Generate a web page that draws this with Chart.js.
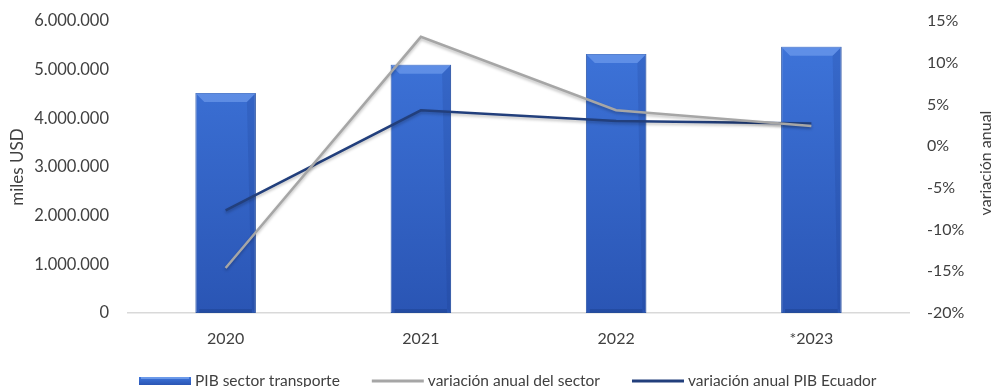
<!DOCTYPE html>
<html>
<head>
<meta charset="utf-8">
<script src="https://cdn.jsdelivr.net/npm/chart.js@4.4.1/dist/chart.umd.min.js"></script>
<style>
  html, body { margin: 0; padding: 0; background: #fff; }
  #wrap { width: 994px; height: 387px; position: relative; }
</style>
</head>
<body>
<div id="wrap"><canvas id="pibChart"></canvas></div>
<script>
// data
var years         = ['2020', '2021', '2022', '*2023'];
var pibTransporte = [4520000, 5100000, 5320000, 5470000];   // miles USD
var varSector     = [-14.6, 13.1, 4.3, 2.4];                 // %
var varEcuador    = [-7.7, 4.3, 3.0, 2.7];                   // %
var seriesNames   = ['PIB sector transporte', 'variación anual del sector', 'variación anual PIB Ecuador'];

var FONT = 'Lato';
var TXT  = '#404040';
var GREY = '#a6a6a6';
var NAVY = '#223f7c';

function fmtMiles(v) {
    return String(v).replace(/\B(?=(\d{3})+(?!\d))/g, '.');
}

function barGradient(ctx, top, bottom) {
    var g = ctx.createLinearGradient(0, top, 0, bottom);
    g.addColorStop(0, '#3f76dc');
    g.addColorStop(1, '#2a55b4');
    return g;
}

// fixed axis boxes so the plot area lands where the reference has it
function fixBox(width) {
    return function (s) {
        s.width = width;
        s.paddingTop = 0;
        s.paddingBottom = 0;
    };
}

// bevel on bars, shadow on lines, rotated right-axis title, legend
var excelLook = {
    id: 'excelLook',
    beforeDatasetDraw: function (chart, args) {
        if (args.index === 0) return;
        var ctx = chart.ctx;
        ctx.save();
        ctx.shadowColor = 'rgba(0,0,0,0.25)';
        ctx.shadowBlur = 3;
        ctx.shadowOffsetY = 2;
    },
    afterDatasetDraw: function (chart, args) {
        var ctx = chart.ctx;
        if (args.index !== 0) { ctx.restore(); return; }
        args.meta.data.forEach(function (bar) {
            var p = bar.getProps(['x', 'y', 'base', 'width'], true);
            var l = p.x - p.width / 2, r = p.x + p.width / 2, t = p.y, b = p.base, bv = 9;
            ctx.save();
            ctx.fillStyle = 'rgba(130,172,245,0.5)';
            ctx.beginPath();
            ctx.moveTo(l, t); ctx.lineTo(r, t); ctx.lineTo(r - bv, t + bv); ctx.lineTo(l + bv, t + bv);
            ctx.closePath(); ctx.fill();
            ctx.fillStyle = 'rgba(20,50,120,0.15)';
            ctx.beginPath();
            ctx.moveTo(r, t); ctx.lineTo(r, b); ctx.lineTo(r - 4, b - 4); ctx.lineTo(r - bv, t + bv);
            ctx.closePath(); ctx.fill();
            ctx.fillStyle = 'rgba(15,40,100,0.22)';
            ctx.fillRect(l + 4, b - 4, p.width - 8, 4);
            ctx.restore();
        });
    },
    afterDraw: function (chart) {
        var ctx = chart.ctx, ca = chart.chartArea;
        ctx.save();
        ctx.font = '16px ' + FONT;
        ctx.fillStyle = TXT;
        ctx.textAlign = 'center';
        ctx.textBaseline = 'middle';
        ctx.translate(chart.width - 8, (ca.top + ca.bottom) / 2 - 4);
        ctx.rotate(-Math.PI / 2);
        ctx.fillText('variación anual', 0, 0);
        ctx.restore();

        ctx.save();
        ctx.font = '15.5px ' + FONT;
        ctx.textBaseline = 'middle';
        ctx.textAlign = 'left';
        var sw = 52, gapTxt = 4, gapItem = 32, y = 381;
        var x = ca.left + 11;
        seriesNames.forEach(function (name, i) {
            if (i === 0) {
                ctx.fillStyle = barGradient(ctx, y - 4, y + 4);
                ctx.fillRect(x, y - 4, sw, 8);
                ctx.fillStyle = 'rgba(140,180,245,0.6)';
                ctx.fillRect(x + 2, y - 4, sw - 4, 2);
            } else {
                ctx.strokeStyle = i === 1 ? GREY : NAVY;
                ctx.lineWidth = 3;
                ctx.beginPath();
                ctx.moveTo(x, y); ctx.lineTo(x + sw, y);
                ctx.stroke();
            }
            ctx.fillStyle = TXT;
            ctx.fillText(name, x + sw + gapTxt, y);
            x += sw + gapTxt + ctx.measureText(name).width + gapItem;
        });
        ctx.restore();
    }
};

new Chart(document.getElementById('pibChart'), {
    type: 'bar',
    data: {
        labels: years,
        datasets: [
            { type: 'bar', label: seriesNames[0], data: pibTransporte, yAxisID: 'y', order: 1,
              backgroundColor: function (c) {
                  var a = c.chart.chartArea;
                  if (!a) return '#3566cc';
                  return barGradient(c.chart.ctx, a.top, a.bottom);
              },
              borderColor: '#2c56a8', borderWidth: 1, borderSkipped: false,
              barPercentage: 0.31, categoryPercentage: 1 },
            { type: 'line', label: seriesNames[1], data: varSector, yAxisID: 'y1', order: 0,
              borderColor: GREY, borderWidth: 2.5, pointRadius: 0, tension: 0, fill: false },
            { type: 'line', label: seriesNames[2], data: varEcuador, yAxisID: 'y1', order: 0,
              borderColor: NAVY, borderWidth: 2.5, pointRadius: 0, tension: 0, fill: false }
        ]
    },
    options: {
        responsive: true, maintainAspectRatio: false, animation: false,
        layout: { padding: { top: 21, bottom: 34, left: 0, right: 0 } },
        plugins: { legend: { display: false }, tooltip: { enabled: false } },
        scales: {
            x: {
                grid: { display: false, drawTicks: false },
                border: { display: true, color: '#d9d9d9', width: 1.5 },
                ticks: { color: TXT, font: { family: FONT, size: 16 }, padding: 16 },
                afterFit: function (s) { s.height = 40; }
            },
            y: {
                position: 'left', min: 0, max: 6000000,
                grid: { display: false, drawTicks: false },
                border: { display: false },
                ticks: { stepSize: 1000000, color: TXT, font: { family: FONT, size: 16.5 }, padding: 19,
                         callback: function (v) { return fmtMiles(v); } },
                title: { display: true, text: 'miles USD', color: TXT, font: { family: FONT, size: 17 },
                         padding: { top: 7, bottom: 0 } },
                afterFit: fixBox(128)
            },
            y1: {
                position: 'right', min: -20, max: 15,
                grid: { display: false, drawTicks: false },
                border: { display: false },
                ticks: { stepSize: 5, color: TXT, font: { family: FONT, size: 16 }, padding: 18,
                         callback: function (v) { return v + '%'; } },
                afterFit: fixBox(85)
            }
        }
    },
    plugins: [excelLook]
});
</script>
</body>
</html>
